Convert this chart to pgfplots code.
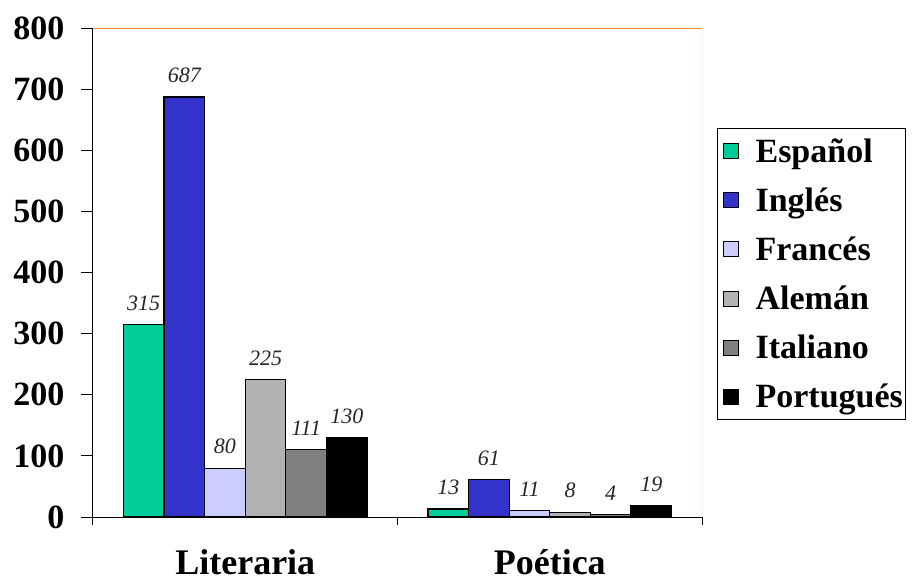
\documentclass[border=0pt]{standalone}
\usepackage{fontspec}
\setmainfont{Liberation Serif}
\usepackage{pgfplots}
\pgfplotsset{compat=1.18}

\definecolor{cEsp}{HTML}{00CC99}
\definecolor{cIng}{HTML}{3333CC}
\definecolor{cFra}{HTML}{CCCCFF}
\definecolor{cAle}{HTML}{B2B2B2}
\definecolor{cIta}{HTML}{808080}
\definecolor{cPor}{HTML}{000000}
\definecolor{frameorange}{HTML}{FF8A3D}

\begin{document}
\begin{tikzpicture}
\useasboundingbox (-93pt,-66pt) rectangle (822pt,517pt);
\begin{axis}[
  at={(0pt,0pt)}, anchor=south west,
  scale only axis, width=609pt, height=489pt,
  ybar=0pt, bar width=40.6pt,
  xmin=-0.5, xmax=1.5, ymin=0, ymax=800,
  ytick={0,100,...,800},
  xtick={0,1}, xticklabels={Literaria,Poética},
  minor xtick={-0.5,0.5,1.5},
  axis x line*=bottom, axis y line*=left,
  axis line style={black, line width=1pt},
  tick align=outside,
  major tick length=12pt, minor tick length=8pt,
  tick style={black, line width=1pt},
  major x tick style={draw=none},
  /pgf/number format/assume math mode=true,
  yticklabel style={font=\fontsize{34}{36}\selectfont\bfseries, xshift=-13pt},
  xticklabel style={font=\fontsize{36}{38}\selectfont\bfseries, inner sep=0pt,
    text depth=0pt, yshift=-20pt},
  nodes near coords,
  every node near coord/.append style={font=\fontsize{22}{24}\selectfont\itshape, text=black!85, yshift=10pt},
  legend style={at={(1.0246,0.7955)}, anchor=north west, draw=black, line width=0.8pt,
    font=\fontsize{34}{38}\selectfont\bfseries, row sep=20pt, inner xsep=0pt, inner ysep=8pt,
    cells={anchor=west}},
  legend image code/.code={%
    \draw[#1, draw=black, line width=0.8pt] (5pt,-7.5pt) rectangle (20pt,7.5pt);
    \path (0pt,0pt) (35pt,0pt);},
]
\addplot[fill=cEsp, draw=black, line width=1.2pt] coordinates {(0,315) (1,13)};
\addplot[fill=cIng, draw=black, line width=1.2pt] coordinates {(0,687) (1,61)};
\addplot[fill=cFra, draw=black, line width=1.2pt] coordinates {(0,80) (1,11)};
\addplot[fill=cAle, draw=black, line width=1.2pt] coordinates {(0,225) (1,8)};
\addplot[fill=cIta, draw=black, line width=1.2pt] coordinates {(0,111) (1,4)};
\addplot[fill=cPor, draw=black, line width=1.2pt] coordinates {(0,130) (1,19)};
\legend{Español,Inglés,Francés,Alemán,Italiano,Portugués}
\draw[frameorange, line width=1pt] (rel axis cs:0,1) -- (rel axis cs:1,1) -- (rel axis cs:1,0);
\end{axis}
\end{tikzpicture}
\end{document}
